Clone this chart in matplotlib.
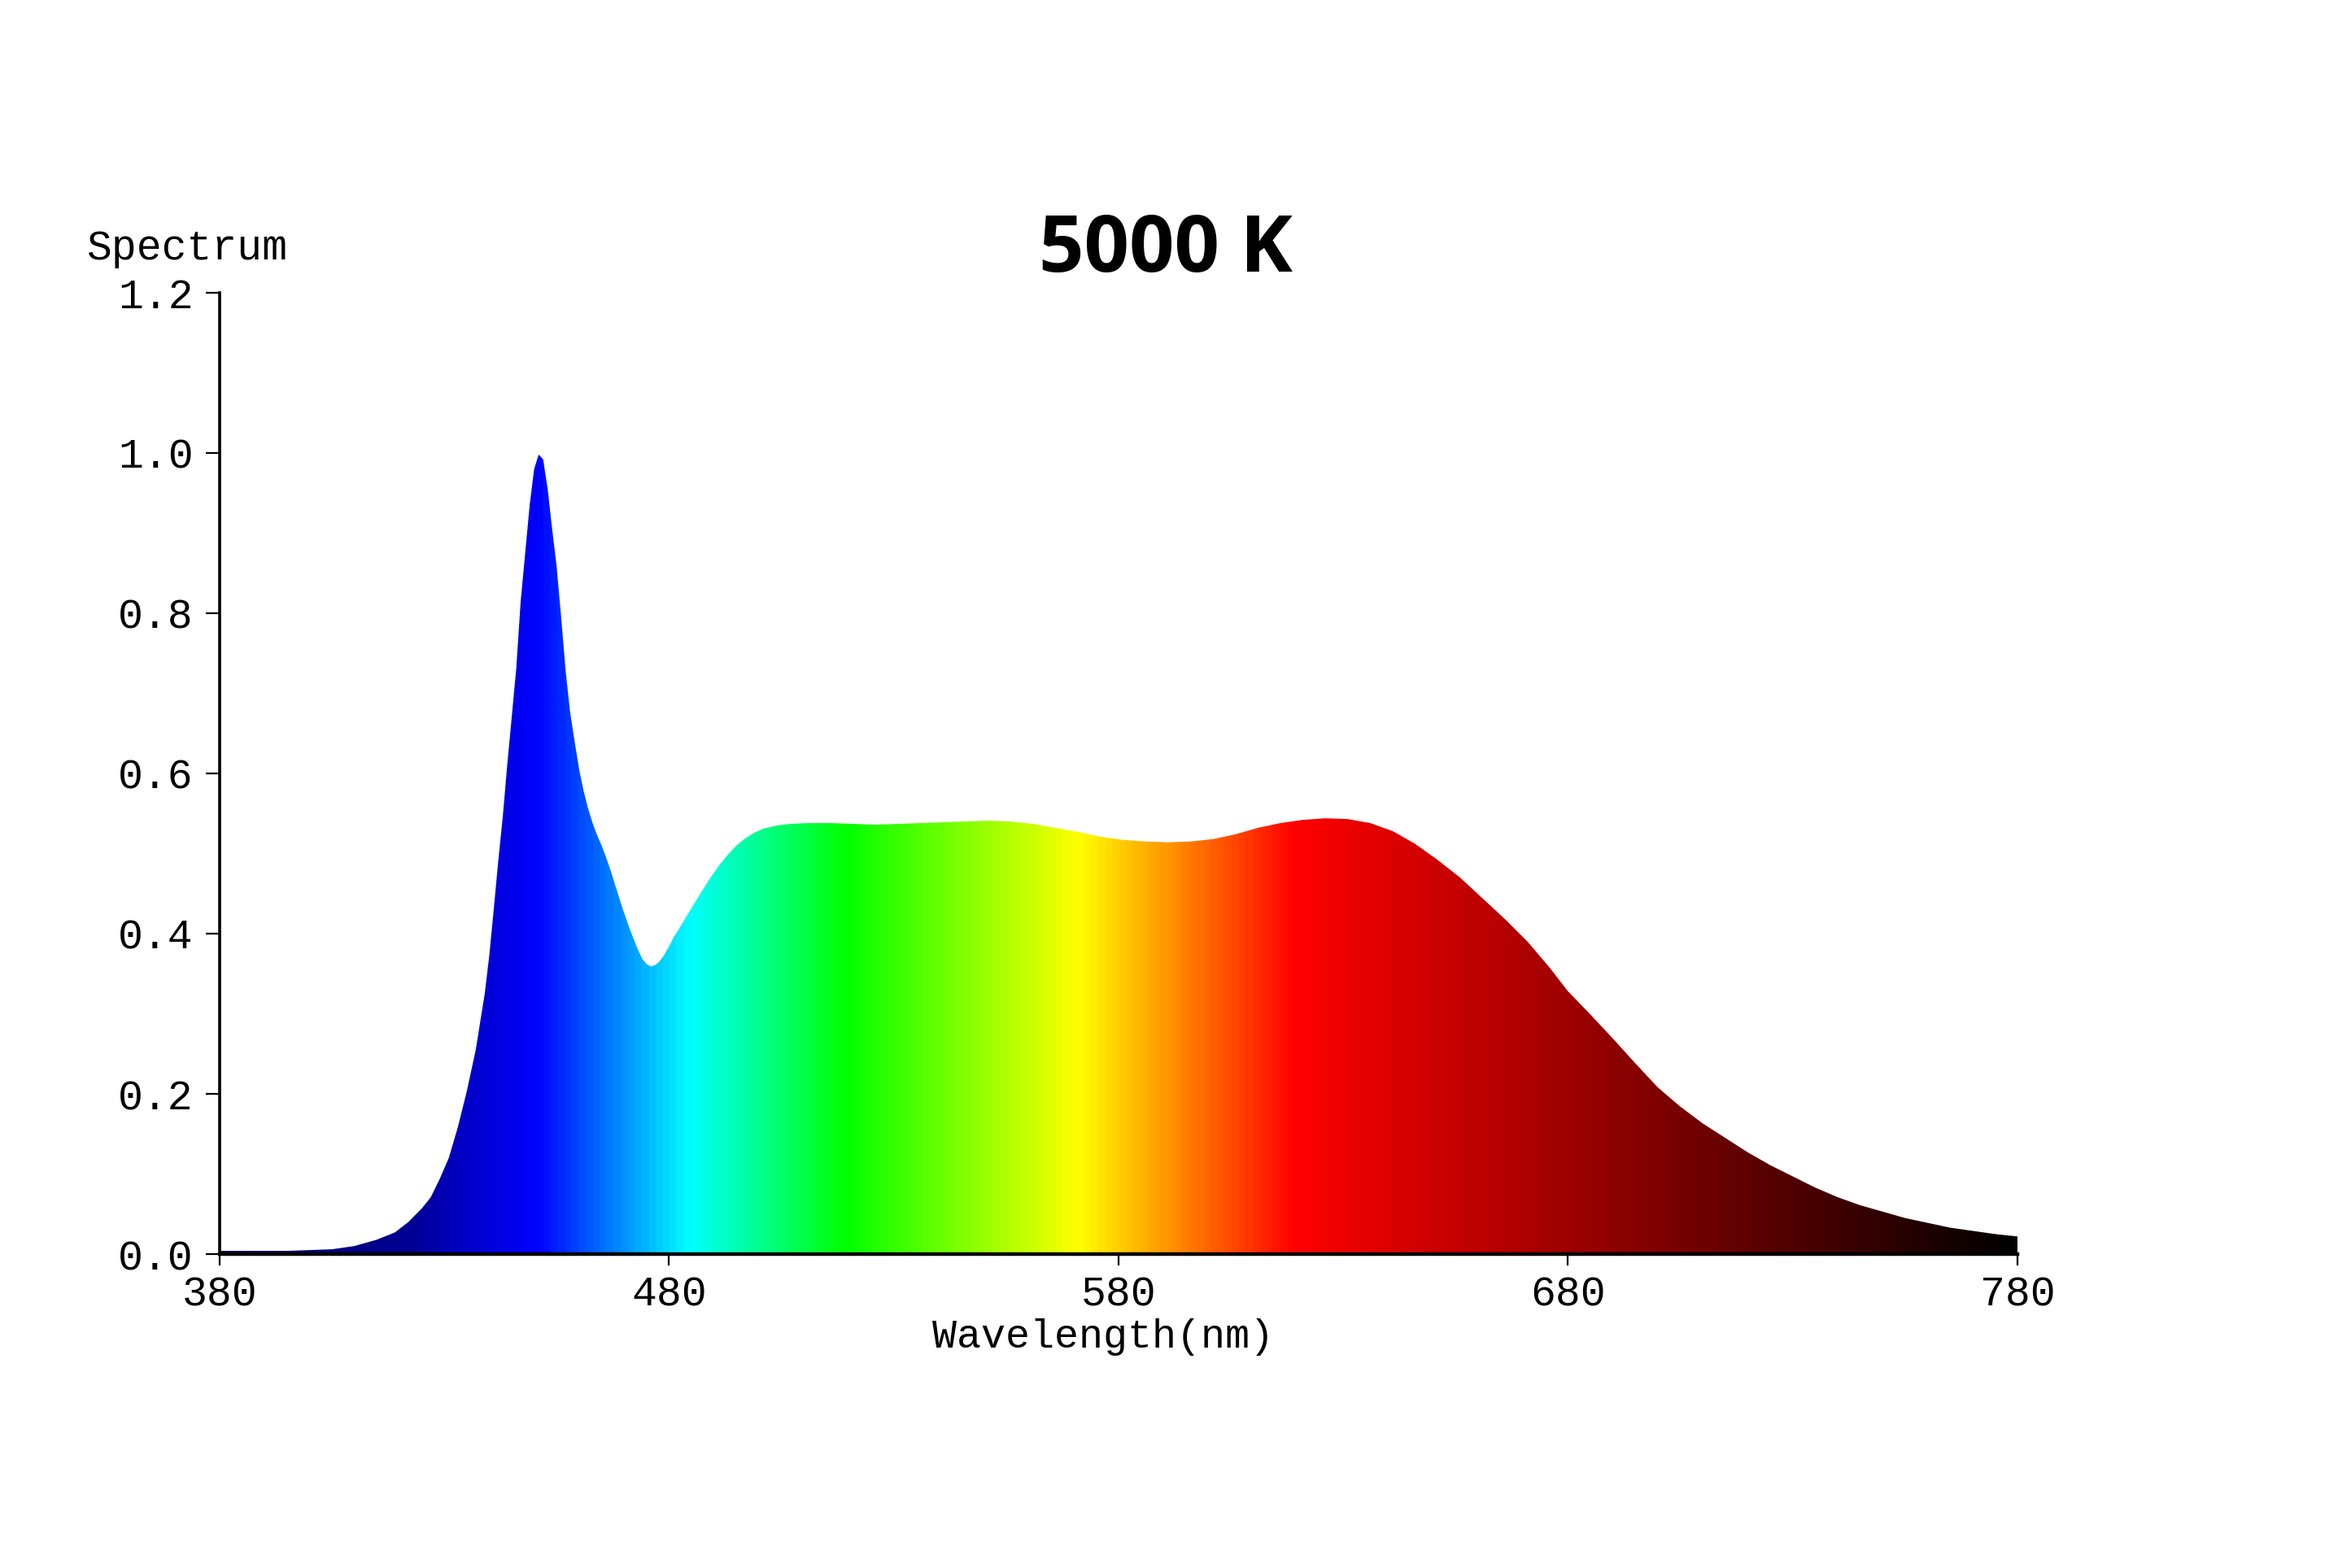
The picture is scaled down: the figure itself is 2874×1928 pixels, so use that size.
import numpy as np
import matplotlib
matplotlib.use("Agg")
import matplotlib.pyplot as plt
from matplotlib.colors import LinearSegmentedColormap

# spectrum (wavelength in nm, relative power)
wavelength = [380, 385, 390, 395, 400, 405, 410, 415, 419, 422, 425, 427, 429, 431,
              433, 435, 437, 439, 440, 441, 442, 443, 444, 445, 446, 447, 448, 449,
              450, 451, 452, 453, 454, 455, 456, 457, 458, 459, 460, 461, 462, 463,
              464, 465, 466, 467, 468, 469, 470, 471, 472, 473, 474, 475, 476, 477,
              478, 479, 480, 481, 483, 485, 487, 489, 491, 493, 495, 497, 499, 501,
              504, 507, 511, 516, 521, 526, 531, 536, 541, 546, 551, 556, 561, 566,
              571, 576, 581, 586, 591, 596, 601, 606, 611, 616, 621, 626, 631, 636,
              641, 646, 651, 656, 661, 666, 671, 676, 680, 685, 690, 695, 700, 705,
              710, 715, 720, 725, 730, 735, 740, 745, 750, 755, 760, 765, 770, 775, 780]
spectrum = [0.004, 0.004, 0.004, 0.004, 0.005, 0.006, 0.010, 0.018, 0.027, 0.040, 0.057,
            0.071, 0.094, 0.120, 0.158, 0.203, 0.255, 0.325, 0.372, 0.430, 0.490, 0.545,
            0.610, 0.670, 0.730, 0.815, 0.875, 0.935, 0.980, 0.998, 0.992, 0.955, 0.905,
            0.858, 0.795, 0.728, 0.676, 0.640, 0.605, 0.578, 0.556, 0.538, 0.523, 0.510,
            0.495, 0.479, 0.461, 0.443, 0.426, 0.410, 0.395, 0.381, 0.369, 0.362, 0.359,
            0.361, 0.366, 0.374, 0.384, 0.395, 0.413, 0.432, 0.450, 0.468, 0.484, 0.498,
            0.510, 0.519, 0.526, 0.531, 0.535, 0.537, 0.538, 0.538, 0.537, 0.536, 0.537,
            0.538, 0.539, 0.540, 0.541, 0.540, 0.537, 0.532, 0.527, 0.521, 0.517, 0.515,
            0.514, 0.515, 0.518, 0.524, 0.532, 0.538, 0.542, 0.544, 0.543, 0.538, 0.528,
            0.512, 0.492, 0.470, 0.444, 0.418, 0.390, 0.357, 0.328, 0.299, 0.269, 0.238,
            0.208, 0.184, 0.163, 0.145, 0.127, 0.111, 0.097, 0.083, 0.071, 0.061, 0.053,
            0.045, 0.039, 0.033, 0.029, 0.025, 0.022]

# colour stops of the rainbow fill
stop_nm = [380, 406, 422, 434, 450, 484, 519, 571, 619, 780]
stop_rgb = [(0, 0, 0.35), (0, 0, 0.5), (0, 0, 0.58), (0, 0, 0.78), (0, 0, 1),
            (0, 1, 1), (0, 1, 0), (1, 1, 0), (1, 0, 0), (0, 0, 0)]

x_ticks = [380, 480, 580, 680, 780]
y_ticks = [0.0, 0.2, 0.4, 0.6, 0.8, 1.0, 1.2]

mono = "Liberation Mono"

fig = plt.figure(figsize=(14.37, 9.64), dpi=200)
ax = fig.add_axes([0.0939, 0.2002, 0.7690, 0.6131])

cmap = LinearSegmentedColormap.from_list(
    "spec", [((w - 380) / 400, c) for w, c in zip(stop_nm, stop_rgb)])

# fill area only used as clip shape for the gradient
area = ax.fill_between(wavelength, spectrum, 0, facecolor="none", lw=0)
grad = np.linspace(380, 780, 1600).reshape(1, -1)
img = ax.imshow(grad, extent=[380, 780, 0, 1.2], aspect="auto", cmap=cmap,
                vmin=380, vmax=780, origin="lower", interpolation="bilinear")
img.set_clip_path(area.get_paths()[0], transform=ax.transData)

ax.set_xlim(380, 780)
ax.set_ylim(0, 1.2)
ax.set_xticks(x_ticks)
ax.set_xticklabels([str(t) for t in x_ticks], fontfamily=mono, fontsize=18.5)
ax.set_yticks(y_ticks)
ax.set_yticklabels(["%.1f" % t for t in y_ticks], fontfamily=mono, fontsize=18.5)

for s in ["top", "right"]:
    ax.spines[s].set_visible(False)
ax.spines["left"].set_linewidth(1.3)
ax.spines["bottom"].set_linewidth(1.6)
ax.tick_params(axis="y", direction="out", length=6, width=0.8, pad=5.5, colors="black")
ax.tick_params(axis="x", direction="out", length=5, width=0.8, pad=4, colors="black")

fig.text(0.080, 0.8345, "Spectrum", fontfamily=mono, fontsize=18.5,
         ha="center", va="baseline")
fig.text(0.4718, 0.1406, "Wavelength(nm)", fontfamily=mono, fontsize=18,
         ha="center", va="baseline")
fig.text(0.4986, 0.8268, "5000 K", fontfamily="Open Sans", fontweight="bold",
         fontsize=35, ha="center", va="baseline")

fig.savefig("out.png", dpi=200)
